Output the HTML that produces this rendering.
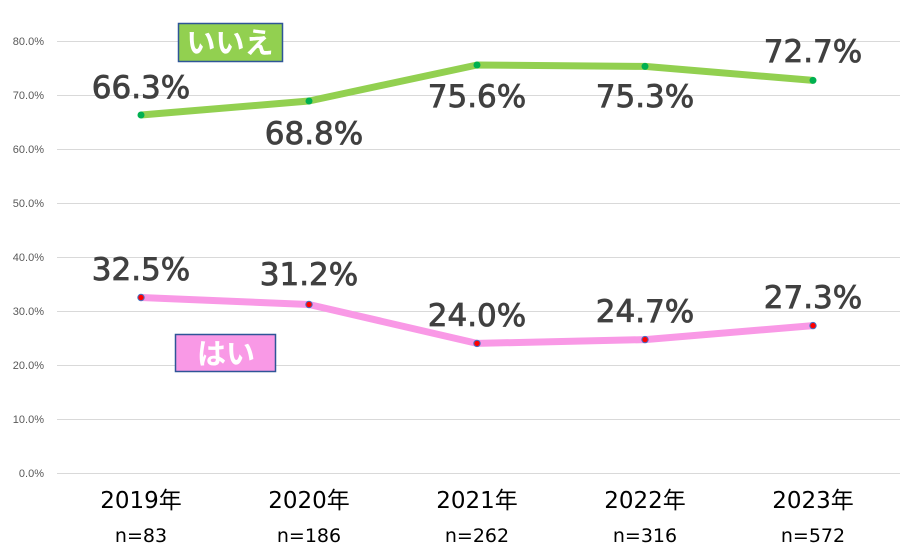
<!DOCTYPE html><html><head><meta charset="utf-8"><style>body{margin:0;background:#fff}svg{display:block}</style></head><body>
<svg width="901" height="556" xmlns="http://www.w3.org/2000/svg" font-family="DejaVu Sans, Noto Sans CJK JP, sans-serif">
<g stroke="#d9d9d9" stroke-width="1">
<line x1="57" x2="900" y1="41.5" y2="41.5"/><line x1="57" x2="900" y1="95.5" y2="95.5"/><line x1="57" x2="900" y1="149.5" y2="149.5"/><line x1="57" x2="900" y1="203.5" y2="203.5"/><line x1="57" x2="900" y1="257.5" y2="257.5"/><line x1="57" x2="900" y1="311.5" y2="311.5"/><line x1="57" x2="900" y1="365.5" y2="365.5"/><line x1="57" x2="900" y1="419.5" y2="419.5"/><line x1="57" x2="900" y1="473.5" y2="473.5"/>
</g>
<g font-size="11" fill="#595959" text-anchor="end" font-family="Liberation Sans, sans-serif">
<text x="44" y="45">80.0%</text><text x="44" y="99">70.0%</text><text x="44" y="153">60.0%</text><text x="44" y="207">50.0%</text><text x="44" y="261">40.0%</text><text x="44" y="315">30.0%</text><text x="44" y="369">20.0%</text><text x="44" y="423">10.0%</text><text x="44" y="477">0.0%</text>
</g>
<polyline points="141,115 309,101 477,65 645,66.4 813,80.4" fill="none" stroke="#92D050" stroke-width="7" stroke-linejoin="round"/>
<polyline points="141,297.5 309,304.5 477,343.4 645,339.6 813,325.6" fill="none" stroke="#F999E6" stroke-width="7" stroke-linejoin="round"/>
<g fill="#00B050"><circle cx="141" cy="115" r="3.5"/><circle cx="309" cy="101" r="3.5"/><circle cx="477" cy="65" r="3.5"/><circle cx="645" cy="66.4" r="3.5"/><circle cx="813" cy="80.4" r="3.5"/></g>
<g fill="#FF0000" stroke="#4472C4" stroke-width="1"><circle cx="141" cy="297.5" r="3.2"/><circle cx="309" cy="304.5" r="3.2"/><circle cx="477" cy="343.4" r="3.2"/><circle cx="645" cy="339.6" r="3.2"/><circle cx="813" cy="325.6" r="3.2"/></g>
<g font-size="31" fill="#404040" stroke="#404040" stroke-width="0.8" text-anchor="middle">
<text x="141" y="98">66.3%</text><text x="314" y="144">68.8%</text><text x="477" y="107">75.6%</text><text x="645" y="107">75.3%</text><text x="813" y="62">72.7%</text>
<text x="141" y="280">32.5%</text><text x="309" y="285">31.2%</text><text x="477" y="326">24.0%</text><text x="645" y="322">24.7%</text><text x="813" y="308">27.3%</text>
</g>
<rect x="178.5" y="23.5" width="104" height="38" fill="#92D050" stroke="#2F5597" stroke-width="1.5"/>
<text x="230" y="53" font-size="29" font-weight="bold" fill="#fff" text-anchor="middle">いいえ</text>
<rect x="175.5" y="334.5" width="100" height="37" fill="#F999E6" stroke="#2F5597" stroke-width="1.5"/>
<text x="226" y="364" font-size="29" font-weight="bold" fill="#fff" text-anchor="middle">はい</text>
<g font-size="23" fill="#000" text-anchor="middle">
<text x="141" y="508">2019年</text><text x="309" y="508">2020年</text><text x="477" y="508">2021年</text><text x="645" y="508">2022年</text><text x="813" y="508">2023年</text>
</g>
<g font-size="19" fill="#000" text-anchor="middle">
<text x="141" y="542">n=83</text><text x="309" y="542">n=186</text><text x="477" y="542">n=262</text><text x="645" y="542">n=316</text><text x="813" y="542">n=572</text>
</g>
</svg></body></html>
